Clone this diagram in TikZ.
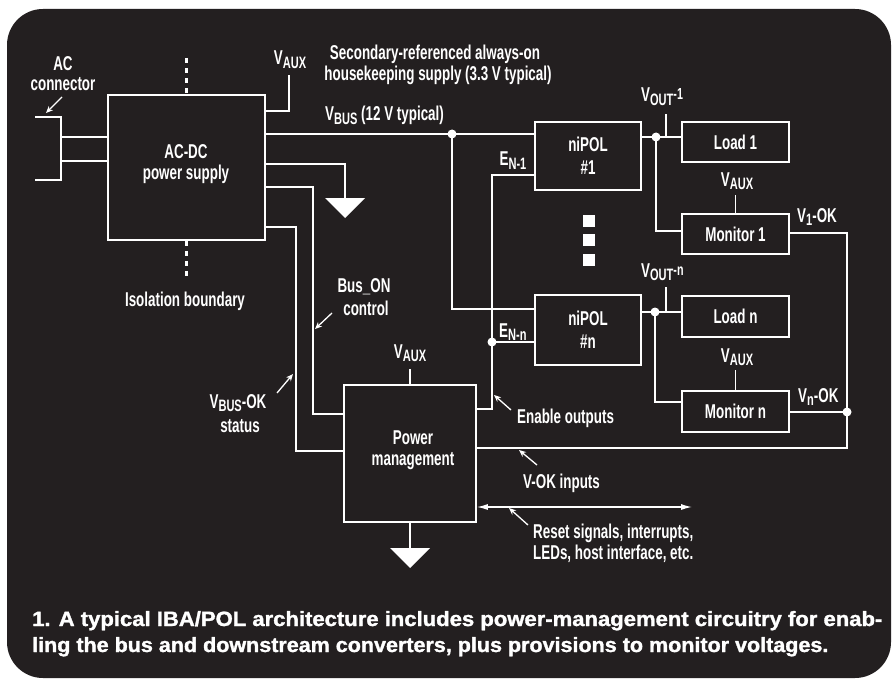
\documentclass[tikz,border=0pt]{standalone}
\usepackage{graphicx}
\usepackage{fontspec}
\setmainfont{Liberation Sans}[FakeStretch=0.67]
\newfontfamily\capfont{Liberation Sans}[FakeStretch=0.8,FakeBold=1.2]
\usetikzlibrary{arrows.meta,calc}
\definecolor{bg}{HTML}{231F20}
\newcommand{\lsub}[1]{\raisebox{-3.5pt}{\fontsize{16.5}{16.5}\selectfont #1}}
\newcommand{\lsup}[1]{\raisebox{2pt}{\fontsize{16}{16}\selectfont #1}}
\newcommand{\lblfont}{\fontsize{20}{22}\selectfont\bfseries}
\begin{document}
\begin{tikzpicture}[x=1pt,y=-1pt,
  wire/.style={draw=white,line width=1.7pt},
  blk/.style={draw=white,line width=1.7pt,inner sep=0pt,text=white,font=\lblfont,align=center},
  lbl/.style={text=white,font=\lblfont,inner sep=0pt,anchor=base},
  lblw/.style={lbl,anchor=base west},
  ptr/.style={white,line width=1.3pt,-{Stealth[length=7pt,width=6pt]}},
  jdot/.style={circle,fill=white,inner sep=0pt,minimum size=9pt},
  sq/.style={fill=white,inner sep=0pt,minimum size=12pt},
  isol/.style={white,line width=2.6pt,dash pattern=on 5pt off 5pt},
  gnd/.style={fill=white}
]
\useasboundingbox (0,0) rectangle (896,679);
\fill[white] (0,0) rectangle (896,679);
\fill[bg,rounded corners=36pt] (7,9) rectangle (891,678);

% boxes
\node[blk,minimum width=157pt,minimum height=145pt] (acdc) at (186.5,167.5) {};
\node[blk,minimum width=106pt,minimum height=68pt,font=\fontsize{20}{23}\selectfont\bfseries] (np1) at (588,156) {niPOL\\\#1};
\node[blk,minimum width=106pt,minimum height=70pt,font=\fontsize{20}{23}\selectfont\bfseries] (npn) at (588,330) {niPOL\\\#n};
\node[blk,minimum width=107pt,minimum height=40pt] (ld1) at (735.5,142) {Load 1};
\node[blk,minimum width=107pt,minimum height=40pt] (mo1) at (735.5,234) {Monitor 1};
\node[blk,minimum width=107pt,minimum height=41pt] (ldn) at (735.5,316.5) {Load n};
\node[blk,minimum width=107pt,minimum height=41pt] (mon) at (735.5,411.5) {Monitor n};
\node[blk,minimum width=132pt,minimum height=137pt] (pm) at (410,453.5) {};

% labels
\node[lbl] (tAC) at (63,71) {AC};
\node[lbl] (tACc) at (63,91) {connector};
\node[lbl] (tVa0) at (290,65) {V\lsub{AUX}};
\node[lbl] (tSec1) at (435,60) {Secondary-referenced always-on};
\node[lbl] (tSec2) at (438,81) {housekeeping supply (3.3 V typical)};
\node[lblw] (tVbus) at (325,121) {V\lsub{BUS} (12 V typical)};
\node[lbl] (tAD1) at (186,159) {AC-DC};
\node[lbl] (tAD2) at (186,179) {power supply};
\node[lbl] (tIso) at (185,306) {Isolation boundary};
\node[lbl] (tEN1) at (513,166) {E\lsub{N-1}};
\node[lblw] (tVo1) at (641,102) {V\lsub{OUT}\lsup{-1}};
\node[lbl] (tVa1) at (737,186) {V\lsub{AUX}};
\node[lblw] (tV1ok) at (797,222) {V\lsub{1}-OK};
\node[lbl] (tBus1) at (364,292) {Bus\_ON};
\node[lbl] (tBus2) at (366,315) {control};
\node[lblw] (tENn) at (499,337) {E\lsub{N-n}};
\node[lbl] (tVa2) at (410,358) {V\lsub{AUX}};
\node[lblw] (tEnab) at (517,423) {Enable outputs};
\node[lbl] (tPM1) at (413,444) {Power};
\node[lbl] (tPM2) at (413,465) {management};
\node[lblw] (tVon) at (641,277) {V\lsub{OUT}\lsup{-n}};
\node[lbl] (tVa3) at (737,362) {V\lsub{AUX}};
\node[lblw] (tVnok) at (798,402) {V\lsub{n}-OK};
\node[lbl] (tVbok) at (238,408) {V\lsub{BUS}-OK};
\node[lbl] (tVbok2) at (240,432) {status};
\node[lblw] (tVokin) at (523,488) {V-OK inputs};
\node[lblw] (tRes1) at (533,538) {Reset signals, interrupts,};
\node[lblw] (tRes2) at (533,559) {LEDs, host interface, etc.};

% AC connector
\draw[wire] (35,117) -- (61,117) -- (61,180) -- (35,180);
\coordinate (cA) at (61,137);
\coordinate (cB) at (61,161);
\draw[wire] (cA) -- (acdc.west |- cA);
\draw[wire] (cB) -- (acdc.west |- cB);

% isolation boundary
\coordinate (iso1) at (186.5,58);
\coordinate (iso2) at (186.5,277);
\draw[isol] (iso1) -- (acdc.north);
\draw[isol] (acdc.south) -- (iso2);

% VAUX from AC-DC
\coordinate (vauxA) at (289,111);
\coordinate (vauxB) at (289,75);
\draw[wire] (acdc.east |- vauxA) -- (vauxA) -- (vauxB);

% VBUS
\coordinate (jbus) at (452,134);
\coordinate (jbusb) at (452,309);
\draw[wire] (acdc.east |- jbus) -- (np1.west |- jbus);
\draw[wire] (jbus) -- (jbusb) -- (npn.west |- jbusb);

% ground 1
\coordinate (g1a) at (345,164);
\coordinate (g1) at (345,198);
\draw[wire] (acdc.east |- g1a) -- (g1a) -- (g1);
\fill[gnd] (g1) ++(-20,0) -- ++(40,0) -- ++(-20,20) -- cycle;

% Bus_ON control
\coordinate (bonA) at (313,187);
\coordinate (bon) at (313,414);
\draw[wire] (acdc.east |- bonA) -- (bonA) -- (bon) -- (pm.west |- bon);

% VBUS-OK status
\coordinate (bokA) at (296,227);
\coordinate (bok) at (296,451);
\draw[wire] (acdc.east |- bokA) -- (bokA) -- (bok) -- (pm.west |- bok);

% PM VAUX and ground
\coordinate (pmv) at (410,369);
\draw[wire] (pm.north) -- (pmv);
\coordinate (g2) at (410,548);
\draw[wire] (pm.south) -- (g2);
\fill[gnd] (g2) ++(-20,0) -- ++(40,0) -- ++(-20,20) -- cycle;

% enable outputs
\coordinate (en0) at (492,409);
\coordinate (en1) at (492,175);
\coordinate (jen) at (492,342);
\draw[wire] (pm.east |- en0) -- (en0) -- (en1) -- (np1.west |- en1);
\draw[wire] (jen) -- (npn.west |- jen);

% VOUT-1
\coordinate (jo1) at (656,137);
\coordinate (s1a) at (666,137);
\coordinate (s1b) at (666,114);
\coordinate (m1in) at (656,231);
\draw[wire] (np1.east |- jo1) -- (ld1.west |- jo1);
\draw[wire] (s1a) -- (s1b);
\draw[wire] (jo1) -- (m1in) -- (mo1.west |- m1in);

% VOUT-n
\coordinate (jon) at (655,312);
\coordinate (sna) at (666,312);
\coordinate (snb) at (666,287);
\coordinate (mnin) at (655,402);
\draw[wire] (npn.east |- jon) -- (ldn.west |- jon);
\draw[wire] (sna) -- (snb);
\draw[wire] (jon) -- (mnin) -- (mon.west |- mnin);

% monitor VAUX
\coordinate (m1v) at (735.5,195);
\coordinate (mnv) at (735.5,370);
\draw[wire] (mo1.north) -- (m1v);
\draw[wire] (mon.north) -- (mnv);

% OK lines
\coordinate (ok1) at (847,233);
\coordinate (jok) at (847,412);
\coordinate (okb) at (847,448);
\draw[wire] (mo1.east |- ok1) -- (ok1) -- (okb) -- (pm.east |- okb);
\draw[wire] (mon.east |- jok) -- (jok);

% reset signals
\coordinate (rst) at (692,507);
\draw[white,line width=1.3pt,{Latex[length=11pt,width=6pt]}-{Latex[length=11pt,width=6pt]}] (pm.east |- rst) -- (rst);

% junction dots
\node[jdot] (d1) at (jbus) {};
\node[jdot] (d2) at (jen) {};
\node[jdot] (d3) at (jo1) {};
\node[jdot] (d4) at (jon) {};
\node[jdot] (d5) at (jok) {};

% vertical ellipsis
\node[sq] (q1) at (589,221) {};
\node[sq] (q2) at (589,240) {};
\node[sq] (q3) at (589,260) {};

% pointer arrows
\coordinate (pa1) at (62,97);  \coordinate (pa2) at (46,113);
\coordinate (pb1) at (332,313); \coordinate (pb2) at (315,329);
\coordinate (pc1) at (277,393); \coordinate (pc2) at (293,374);
\coordinate (pd1) at (511,410); \coordinate (pd2) at (494,395);
\coordinate (pe1) at (537,465); \coordinate (pe2) at (519,450);
\coordinate (pf1) at (528,525); \coordinate (pf2) at (509,508);
\draw[ptr] (pa1) -- (pa2);
\draw[ptr] (pb1) -- (pb2);
\draw[ptr] (pc1) -- (pc2);
\draw[ptr] (pd1) -- (pd2);
\draw[ptr] (pe1) -- (pe2);
\draw[ptr] (pf1) -- (pf2);

% caption
\node[anchor=base west,inner sep=0pt,text=white] (cap1) at (32,626) {\resizebox{850pt}{15pt}{\capfont\bfseries 1. A typical IBA/POL architecture includes power-management circuitry for enab-}};
\node[anchor=base west,inner sep=0pt,text=white] (cap2) at (32,652) {\resizebox{796pt}{15pt}{\capfont\bfseries ling the bus and downstream converters, plus provisions to monitor voltages.}};
\end{tikzpicture}
\end{document}
